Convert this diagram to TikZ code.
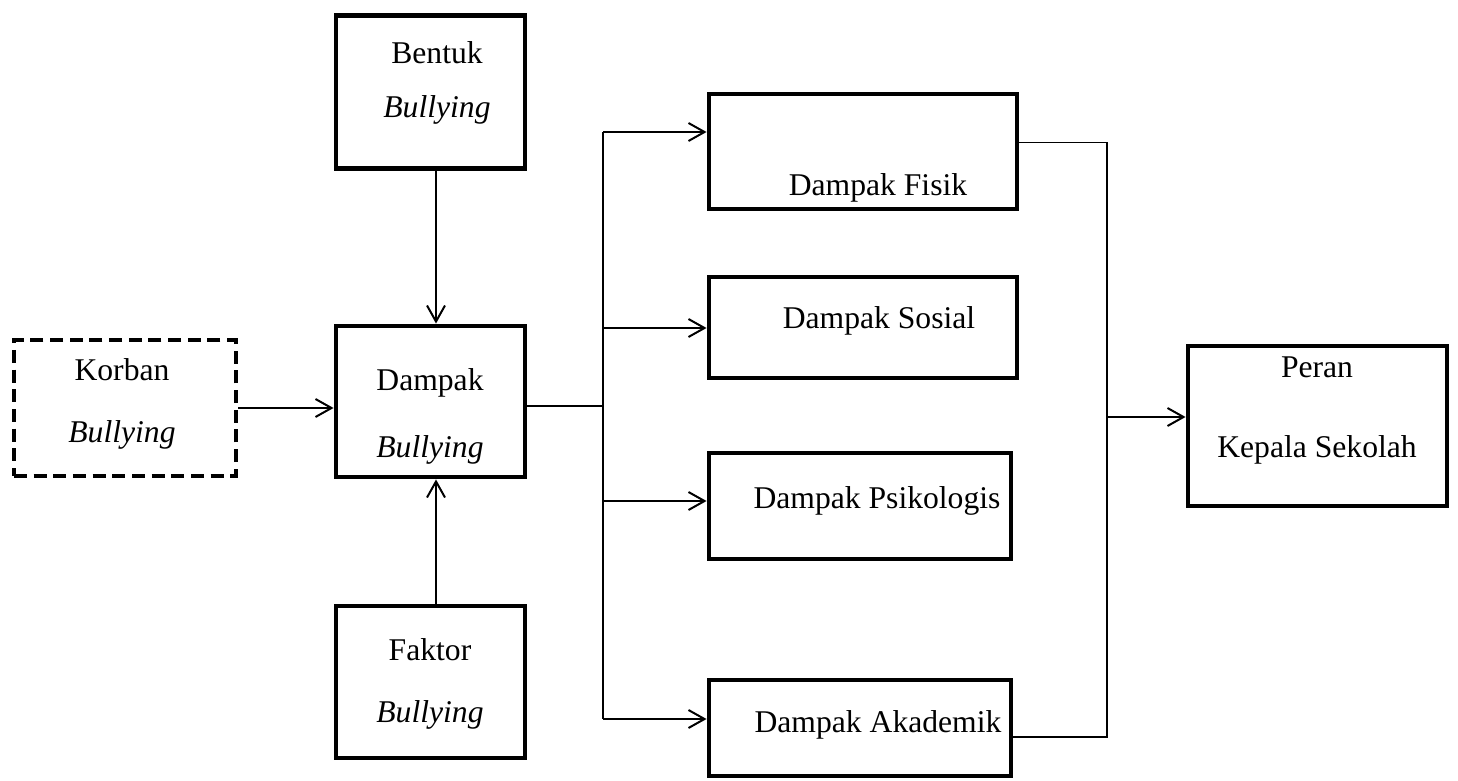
\documentclass[tikz,border=0pt]{standalone}
\usepackage{fontspec}
\setmainfont{Liberation Serif}
\usetikzlibrary{arrows.meta,calc}

\begin{document}
\begin{tikzpicture}[x=0.03cm,y=-0.03cm,>={Straight Barb[length=0.48cm,width=0.54cm]},
    box/.style={draw,line width=4.2pt,inner sep=0pt},
    dbox/.style={box,dash pattern=on 0.39cm off 0.2cm},
    txt/.style={anchor=base,inner sep=0pt,font=\fontsize{27}{32}\selectfont},
    conn/.style={line width=1.7pt},
    thin/.style={line width=1.2pt}]

    \useasboundingbox (0,0) rectangle (1458,780);

    % boxes
    \node[box,minimum width=5.67cm,minimum height=4.575cm] (bentuk) at (430.5,92) {};
    \node[box,minimum width=5.67cm,minimum height=4.53cm] (dampak) at (430.5,401.5) {};
    \node[box,minimum width=5.67cm,minimum height=4.56cm] (faktor) at (430.5,682) {};
    \node[dbox,minimum width=6.66cm,minimum height=4.08cm] (korban) at (125,408) {};
    \node[box,minimum width=9.24cm,minimum height=3.45cm] (fisik) at (863,151.5) {};
    \node[box,minimum width=9.24cm,minimum height=3.03cm] (sosial) at (863,327.5) {};
    \node[box,minimum width=9.06cm,minimum height=3.18cm] (psikologis) at (860,506) {};
    \node[box,minimum width=9.06cm,minimum height=2.88cm] (akademik) at (860,728) {};
    \node[box,minimum width=7.77cm,minimum height=4.8cm] (peran) at (1317.5,426) {};

    % texts
    \node[txt] (tbentuk) at (437,63) {Bentuk};
    \node[txt] (tbentuk2) at (437,117) {\itshape Bullying};
    \node[txt] (tdampak) at (430,390) {Dampak};
    \node[txt] (tdampak2) at (430,457) {\itshape Bullying};
    \node[txt] (tfaktor) at (430,660) {Faktor};
    \node[txt] (tfaktor2) at (430,722) {\itshape Bullying};
    \node[txt] (tkorban) at (122,380) {Korban};
    \node[txt] (tkorban2) at (122,442) {\itshape Bullying};
    \node[txt] (tfisik) at (878,195) {Dampak Fisik};
    \node[txt] (tsosial) at (879,328) {Dampak Sosial};
    \node[txt] (tpsikologis) at (877,508) {Dampak Psikologis};
    \node[txt] (takademik) at (878,732) {Dampak Akademik};
    \node[txt] (tperan) at (1317,377) {Peran};
    \node[txt] (tperan2) at (1317,457) {Kepala Sekolah};

    % left part
    \draw[conn,->] ($(bentuk.south)+(5.5,0)$) -- ($(dampak.north)+(5.5,0)$);
    \draw[conn,->] ($(faktor.north)+(5.5,0)$) -- ($(dampak.south)+(5.5,0)$);
    \draw[conn,->] (korban.east) -- (korban.east -| dampak.west);

    % branches
    \coordinate (sp) at (603,406);
    \coordinate (b1) at (603,132);
    \coordinate (b2) at (603,328);
    \coordinate (b3) at (603,501);
    \coordinate (b4) at (603,719);
    \draw[conn] (dampak.east |- sp) -- (sp);
    \draw[conn] (b1) -- (b4);
    \draw[conn,->] (b1) -- (b1 -| fisik.west);
    \draw[conn,->] (b2) -- (b2 -| sosial.west);
    \draw[conn,->] (b3) -- (b3 -| psikologis.west);
    \draw[conn,->] (b4) -- (b4 -| akademik.west);

    % right part
    \coordinate (j1) at (1107,142.5);
    \coordinate (j2) at (1107,737);
    \coordinate (j3) at (1107,417);
    \draw[thin] (j1 -| fisik.east) -- (j1) -- (j2) -- (j2 -| akademik.east);
    \draw[conn,->] (j3) -- (j3 -| peran.west);

\end{tikzpicture}
\end{document}
